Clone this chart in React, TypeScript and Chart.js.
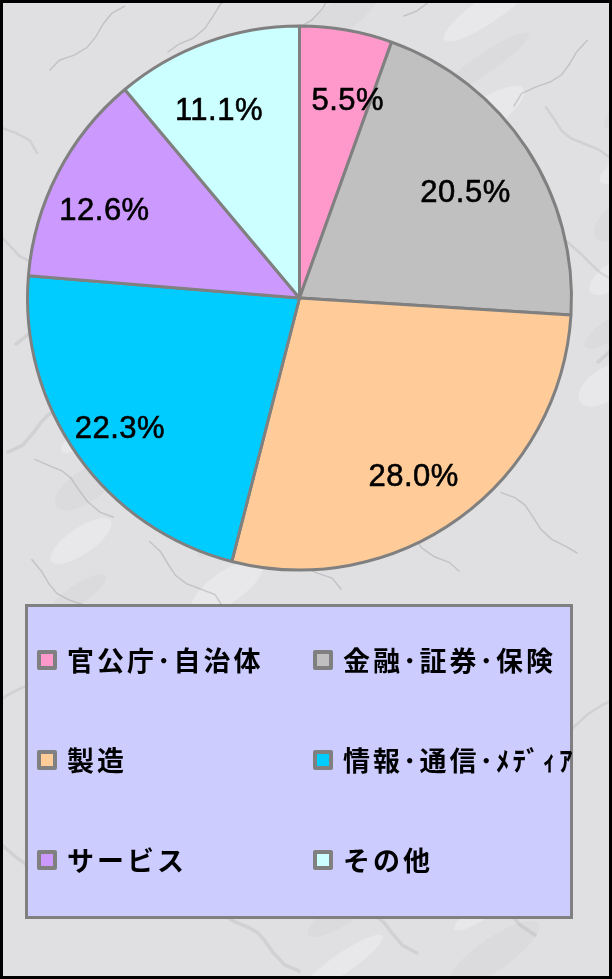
import React, { useEffect, useRef } from 'react';
import { Chart, registerables } from 'chart.js';

Chart.register(...registerables);

const categories = ['官公庁･自治体', '金融･証券･保険', '製造', '情報･通信･ﾒﾃﾞｨｱ', 'サービス', 'その他'];
const shares = [5.5, 20.5, 28.0, 22.3, 12.6, 11.1];
const sliceColors = ['#FF99CC', '#C0C0C0', '#FFCC99', '#00CCFF', '#CC99FF', '#CCFFFF'];

const W = 612;
const H = 979;

const backgroundPlugin = {
  id: 'marbleBg',
  beforeDraw(chart: any) {
    const ctx = chart.ctx as CanvasRenderingContext2D;
    ctx.save();
    ctx.fillStyle = '#e0e0e2';
    ctx.fillRect(0, 0, W, H);
    for (let i = 0; i < 40; i++) {
      const cx = ((i * 131) % 660) - 20;
      const cy = (i * 211) % 1000;
      ctx.fillStyle = i % 2 ? 'rgba(245,245,248,0.35)' : 'rgba(200,200,205,0.22)';
      ctx.beginPath();
      ctx.ellipse(cx, cy, 30 + (i % 5) * 6, 10 + (i % 3) * 3, -0.6, 0, Math.PI * 2);
      ctx.fill();
    }
    ctx.lineCap = 'round';
    for (let i = 0; i < 48; i++) {
      const x0 = ((i * 97) % 700) - 60;
      const y0 = ((i * 173) % 1020) - 20;
      const dir = i % 2 === 0 ? 1 : -1;
      ctx.strokeStyle = i % 3 === 0 ? 'rgba(130,130,135,0.30)' : 'rgba(165,165,170,0.25)';
      ctx.lineWidth = 1.5 + (i % 3);
      ctx.beginPath();
      ctx.moveTo(x0, y0);
      for (let s = 1; s <= 7; s++) {
        const t = s * 11;
        ctx.lineTo(x0 + dir * t + Math.sin(i + s) * 4, y0 - t * 0.8 + Math.cos(i * 2 + s) * 4);
      }
      ctx.stroke();
    }
    ctx.restore();
  },
  afterDraw(chart: any) {
    const ctx = chart.ctx as CanvasRenderingContext2D;
    ctx.save();
    ctx.strokeStyle = '#000000';
    ctx.lineWidth = 3;
    ctx.strokeRect(1.5, 1.5, W - 3, H - 3);
    ctx.restore();
  },
};

const labelPlugin = {
  id: 'pctLabels',
  afterDatasetsDraw(chart: any) {
    const ctx = chart.ctx as CanvasRenderingContext2D;
    const meta = chart.getDatasetMeta(0);
    ctx.save();
    ctx.fillStyle = '#000000';
    ctx.strokeStyle = '#000000';
    ctx.lineWidth = 0.6;
    ctx.font = '31px "Liberation Sans", Arial, sans-serif';
    (ctx as any).letterSpacing = '0.5px';
    ctx.textAlign = 'center';
    ctx.textBaseline = 'middle';
    meta.data.forEach((arc: any, i: number) => {
      const p = arc.getProps(['x', 'y', 'startAngle', 'endAngle', 'outerRadius'], true);
      const mid = (p.startAngle + p.endAngle) / 2;
      const r = p.outerRadius * 0.77;
      const text = shares[i].toFixed(1) + '%';
      const half = ctx.measureText(text).width / 2;
      let x = p.x + Math.cos(mid) * r - 9;
      const y = p.y + Math.sin(mid) * r + 10;
      // keep labels of slices lying wholly in one half on their own side of the centre line
      const s = p.startAngle + Math.PI / 2;
      const e = p.endAngle + Math.PI / 2;
      if (s >= -1e-6 && e <= Math.PI + 1e-6) x = Math.max(x, p.x + 12 + half);
      if (s >= Math.PI - 1e-6 && e <= 2 * Math.PI + 1e-6) x = Math.min(x, p.x - 12 - half);
      ctx.fillText(text, x, y);
      ctx.strokeText(text, x, y);
    });
    ctx.restore();
  },
};

const legendPlugin = {
  id: 'boxLegend',
  afterDraw(chart: any) {
    const ctx = chart.ctx as CanvasRenderingContext2D;
    const bx = 26.5, by = 605.5, bw = 545, bh = 312;
    ctx.save();
    ctx.fillStyle = '#CCCCFF';
    ctx.fillRect(bx, by, bw, bh);
    ctx.strokeStyle = '#808080';
    ctx.lineWidth = 3;
    ctx.strokeRect(bx, by, bw, bh);
    const colX = [37, 313];
    const rowY = [660, 760, 860];
    ctx.font = 'bold 27px "Noto Sans CJK JP", sans-serif';
    (ctx as any).letterSpacing = '3px';
    ctx.textBaseline = 'middle';
    ctx.textAlign = 'left';
    categories.forEach((label, i) => {
      const cx = colX[i % 2];
      const cy = rowY[Math.floor(i / 2)];
      ctx.fillStyle = '#808080';
      ctx.beginPath();
      (ctx as any).roundRect(cx, cy - 10, 20, 20, 2);
      ctx.fill();
      ctx.fillStyle = sliceColors[i];
      ctx.fillRect(cx + 4, cy - 6, 12, 12);
      ctx.fillStyle = '#000000';
      ctx.fillText(label, cx + 30, cy + 1);
    });
    ctx.restore();
  },
};

export default function App() {
  const ref = useRef<HTMLCanvasElement | null>(null);
  useEffect(() => {
    document.body.style.margin = '0';
    if (!ref.current) return;
    const chart = new Chart(ref.current, {
      type: 'pie',
      data: {
        labels: categories,
        datasets: [
          {
            data: shares,
            backgroundColor: sliceColors,
            borderColor: '#808080',
            borderWidth: 3,
          },
        ],
      },
      options: {
        responsive: false,
        animation: false,
        devicePixelRatio: 1,
        radius: 272,
        layout: { padding: { left: 0, top: 0, right: 13, bottom: 383 } },
        plugins: {
          legend: { display: false },
          tooltip: { enabled: false },
          title: { display: false },
        },
      },
      plugins: [backgroundPlugin, labelPlugin, legendPlugin],
    } as any);
    return () => chart.destroy();
  }, []);
  return (
    <div style={{ position: 'absolute', left: 0, top: 0, width: W, height: H }}>
      <canvas ref={ref} width={W} height={H} style={{ display: 'block', width: W, height: H }} />
    </div>
  );
}
